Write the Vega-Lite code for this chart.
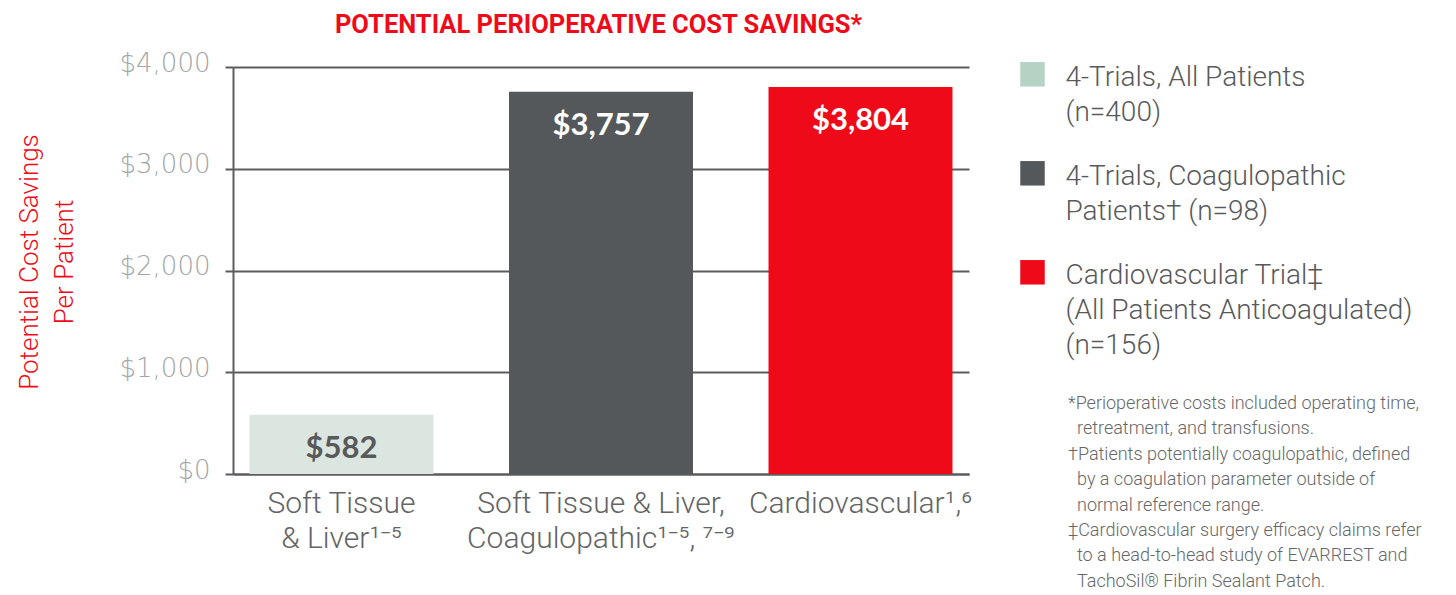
{
  "$schema": "https://vega.github.io/schema/vega-lite/v6.json",
  "background": "white",
  "padding": {"left": 16, "top": 12, "right": 0, "bottom": 0},
  "bounds": "flush",
  "spacing": 0,
  "config": {"view": {"stroke": null}},
  "datasets": {
    "bars": [
      {"category": "Soft Tissue\n& Liver¹⁻⁵", "series": "4-Trials, All Patients", "savings": 582},
      {"category": "Soft Tissue & Liver,\nCoagulopathic¹⁻⁵, ⁷⁻⁹", "series": "4-Trials, Coagulopathic Patients", "savings": 3757},
      {"category": "Cardiovascular¹,⁶", "series": "Cardiovascular Trial", "savings": 3804}
    ],
    "legend": [
      {"series": "4-Trials, All Patients", "label": "4-Trials, All Patients\n(n=400)"},
      {"series": "4-Trials, Coagulopathic Patients", "label": "4-Trials, Coagulopathic\nPatients† (n=98)"},
      {"series": "Cardiovascular Trial", "label": "Cardiovascular Trial‡\n(All Patients Anticoagulated)\n(n=156)"}
    ],
    "notes": [
      {"line": 1, "text": "*Perioperative costs included operating time,"},
      {"line": 2, "text": "retreatment, and transfusions."},
      {"line": 3, "text": "†Patients potentially coagulopathic, defined"},
      {"line": 4, "text": "by a coagulation parameter outside of"},
      {"line": 5, "text": "normal reference range."},
      {"line": 6, "text": "‡Cardiovascular surgery efficacy claims refer"},
      {"line": 7, "text": "to a head-to-head study of EVARREST and"},
      {"line": 8, "text": "TachoSil® Fibrin Sealant Patch."}
    ]
  },
  "resolve": {"scale": {"color": "independent", "fill": "independent"}},
  "hconcat": [
    {
      "width": 736,
      "height": 407,
      "title": {
        "text": "POTENTIAL PERIOPERATIVE COST SAVINGS*",
        "anchor": "middle",
        "frame": "group",
        "baseline": "alphabetic",
        "offset": -8,
        "dx": -2.5,
        "font": "Roboto",
        "fontSize": 25.5,
        "fontWeight": "bold",
        "color": "#ef0a1a"
      },
      "data": {"name": "bars"},
      "encoding": {
        "x": {
          "field": "category",
          "type": "nominal",
          "sort": null,
          "scale": {"paddingInner": 0.291, "paddingOuter": 0.0636},
          "axis": {
            "title": null,
            "labelExpr": "split(datum.label, '\\n')",
            "labelAngle": 0,
            "labelLimit": 0,
            "ticks": false,
            "tickSize": 0,
            "domainColor": "#5b5c5e",
            "domainWidth": 2,
            "labelFont": "Roboto",
            "labelFontWeight": 300,
            "labelFontSize": 30,
            "labelColor": "#636466",
            "labelLineHeight": 35,
            "labelPadding": 14.6,
            "labelBaseline": "top"
          }
        },
        "y": {
          "field": "savings",
          "type": "quantitative",
          "scale": {"domain": [0, 4000]},
          "axis": {
            "values": [0, 1000, 2000, 3000, 4000],
            "format": "$,.0f",
            "grid": true,
            "gridColor": "#5b5c5e",
            "gridWidth": 2,
            "gridOpacity": 1,
            "domainColor": "#5b5c5e",
            "domainWidth": 2,
            "tickColor": "#5b5c5e",
            "tickWidth": 2,
            "tickSize": 8,
            "labelFont": "DejaVu Sans",
            "labelFontWeight": 200,
            "labelFontSize": 26,
            "labelColor": "#a3a5a8",
            "labelPadding": 15,
            "labelBaseline": "alphabetic",
            "labelOffset": 4,
            "title": ["Potential Cost Savings", "Per Patient"],
            "titleFont": "Roboto",
            "titleFontWeight": 300,
            "titleFontSize": 26,
            "titleColor": "#ef0a1a",
            "titleLineHeight": 35,
            "titleAngle": 270,
            "titleAlign": "center",
            "titleBaseline": "alphabetic",
            "titleX": -195.5,
            "titleY": 194.5
          }
        }
      },
      "layer": [
        {
          "mark": {"type": "bar"},
          "encoding": {
            "fill": {
              "field": "series",
              "type": "nominal",
              "sort": null,
              "scale": {"range": ["#dce6e0", "#54585b", "#ef0a1a"]},
              "legend": null
            }
          }
        },
        {
          "mark": {"type": "text", "baseline": "alphabetic", "dy": 43, "font": "Lato", "fontWeight": "bold", "fontSize": 31},
          "encoding": {
            "text": {"field": "savings", "type": "quantitative", "format": "$,.0f"},
            "color": {
              "field": "series",
              "type": "nominal",
              "sort": null,
              "scale": {"range": ["#58595b", "#ffffff", "#ffffff"]},
              "legend": null
            }
          }
        }
      ]
    },
    {
      "width": 127,
      "height": 407,
      "layer": [
        {
          "data": {"name": "legend"},
          "mark": {"type": "square", "size": 600, "opacity": 1},
          "encoding": {
            "y": {"field": "series", "type": "nominal", "sort": null, "scale": {"type": "point", "range": [7.3, 205.3], "padding": 0}, "axis": null},
            "color": {
              "field": "series",
              "type": "nominal",
              "sort": null,
              "scale": {"range": ["#b5d3c4", "#54585b", "#ef0a1a"]},
              "legend": null
            }
          }
        },
        {
          "data": {"name": "legend"},
          "mark": {"type": "text", "align": "left", "baseline": "alphabetic", "dx": 33, "dy": 12, "lineBreak": "\n", "lineHeight": 35, "font": "Roboto", "fontWeight": 300, "fontSize": 28, "color": "#58595b"},
          "encoding": {
            "y": {"field": "series", "type": "nominal", "sort": null, "scale": {"type": "point", "range": [7.3, 205.3], "padding": 0}, "axis": null},
            "text": {"field": "label", "type": "nominal"}
          }
        },
        {
          "data": {"name": "notes"},
          "transform": [{"filter": "test(/^[*†‡]/, datum.text)"}],
          "mark": {"type": "text", "align": "left", "baseline": "alphabetic", "dx": 35.5, "font": "Roboto", "fontWeight": 300, "fontSize": 18, "color": "#666769"},
          "encoding": {
            "y": {"field": "line", "type": "ordinal", "scale": {"type": "point", "domain": [1, 2, 3, 4, 5, 6, 7, 8], "range": [341.8, 519.8], "padding": 0}, "axis": null},
            "text": {"field": "text", "type": "nominal"}
          }
        },
        {
          "data": {"name": "notes"},
          "transform": [{"filter": "!test(/^[*†‡]/, datum.text)"}],
          "mark": {"type": "text", "align": "left", "baseline": "alphabetic", "dx": 44.5, "font": "Roboto", "fontWeight": 300, "fontSize": 18, "color": "#666769"},
          "encoding": {
            "y": {"field": "line", "type": "ordinal", "scale": {"type": "point", "domain": [1, 2, 3, 4, 5, 6, 7, 8], "range": [341.8, 519.8], "padding": 0}, "axis": null},
            "text": {"field": "text", "type": "nominal"}
          }
        }
      ],
      "resolve": {"scale": {"y": "independent"}}
    }
  ]
}
